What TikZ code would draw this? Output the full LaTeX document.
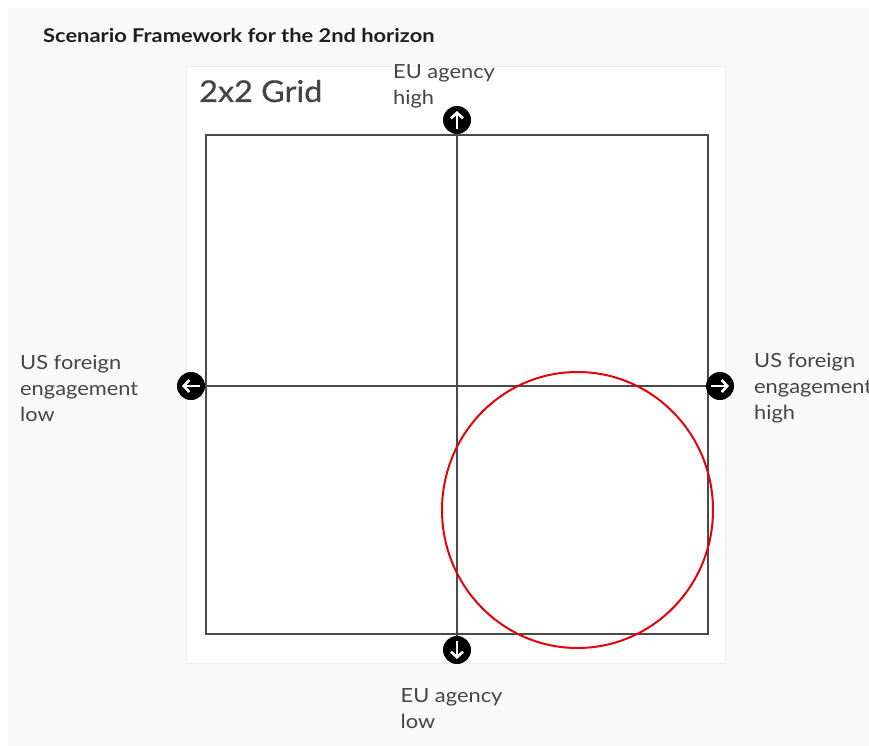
\documentclass[tikz,border=0pt]{standalone}
\usepackage{fontspec}
\setmainfont{Lato}[FakeStretch=1.12]
\newfontfamily\titlefont{Lato}[FakeStretch=1.15, BoldFont={Lato Bold}]
\newfontfamily\gridfont{Lato}[FakeStretch=1.08, FakeBold=0.6]
\usetikzlibrary{arrows.meta}
\definecolor{bg}{HTML}{F9F9F9}
\definecolor{panelline}{HTML}{EEEEEE}
\definecolor{gridline}{HTML}{4A4A4A}
\definecolor{labeltext}{HTML}{454545}
\definecolor{titletext}{HTML}{1E1E1E}
\definecolor{redmark}{HTML}{E8000B}
\tikzset{
  axislabel/.style={anchor=north west, inner sep=0pt, align=left, text=labeltext,
    font=\fontsize{19.5}{26}\selectfont},
  gridbox/.style={draw=gridline, line width=1.6pt, inner sep=0pt,
    minimum width=502pt, minimum height=499pt},
  axis/.style={draw=gridline, line width=1.6pt},
  dot/.style={circle, fill=black, inner sep=0pt, minimum size=28pt},
  dotarrow/.style={draw=white, line width=2.6pt, -{Straight Barb[length=5.5pt,width=12pt]}},
}
\begin{document}
\begin{tikzpicture}[x=1pt,y=-1pt]
\useasboundingbox (0,0) rectangle (869,746);
\fill[white] (0,0) rectangle (869,746);
\fill[bg] (8,8) rectangle (869,746);
\filldraw[fill=white, draw=panelline, line width=0.8pt] (186,66) rectangle (725,663);

\node[anchor=base west, inner sep=0pt, text=titletext, font=\titlefont\bfseries\fontsize{19}{23}\selectfont] (title) at (43,43) {Scenario Framework for the 2nd horizon};
\node[anchor=base west, inner sep=0pt, text=labeltext, font=\gridfont\fontsize{30}{36}\selectfont] (gridtitle) at (199,102) {2x2 Grid};

\node[gridbox] (grid) at (457,384.5) {};

\node[dot] (top) at (457,120) {};
\node[dot] (bottom) at (457,650) {};
\node[dot] (left) at (191,386) {};
\node[dot] (right) at (720,386) {};

\draw[axis] (top.south) -- (bottom.north);
\draw[axis] (left.east) -- (right.west);

\draw[dotarrow] ([yshift=-9pt]top.center) -- ([yshift=9pt]top.center);
\draw[dotarrow] ([yshift=9pt]bottom.center) -- ([yshift=-9pt]bottom.center);
\draw[dotarrow] ([xshift=9pt]left.center) -- ([xshift=-9pt]left.center);
\draw[dotarrow] ([xshift=-9pt]right.center) -- ([xshift=9pt]right.center);

\node[axislabel] (tlabel) at (393,64) {EU agency\\high};
\node[axislabel] (blabel) at (400.5,688) {EU agency\\low};
\node[axislabel] (llabel) at (20,355) {US foreign\\engagement\\low};
\node[axislabel] (rlabel) at (754,353) {US foreign\\engagement\\high};

\draw[redmark, line width=2pt] (577.5,510) ellipse [x radius=135.5, y radius=138];
\end{tikzpicture}
\end{document}
